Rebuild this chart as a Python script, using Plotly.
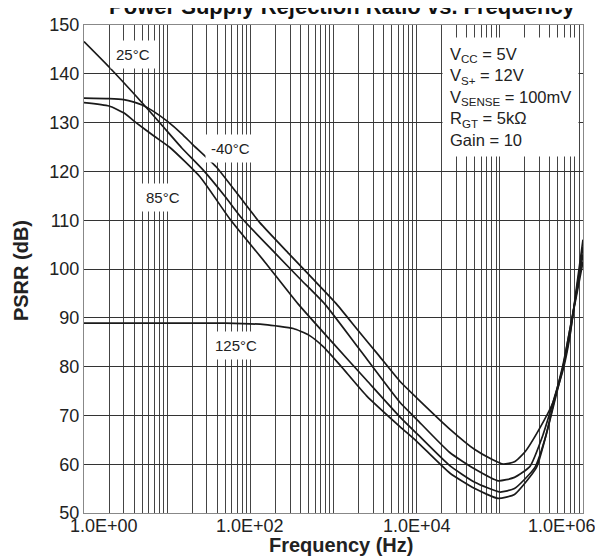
import math
import plotly.graph_objects as go

# ---------------- data ----------------
freq_m40 = [1, 2, 3, 4, 5, 7, 10, 15, 20, 39, 70, 130, 300, 600, 1090, 2000, 3500,
            6280, 10000, 25000, 50000, 80000, 110000, 150000, 200000, 300000,
            437000, 577000, 694000, 834000, 1000000]
psrr_m40 = [135.0, 134.9, 134.7, 134.2, 133.6, 132.2, 130.3, 127.7, 125.6, 120.9,
            115.4, 109.5, 102.9, 97.5, 92.8, 87.3, 82.3, 77.0, 73.6, 67.2, 63.0,
            61.0, 60.0, 60.5, 62.5, 67.3, 72.7, 79.4, 86.1, 96.1, 106.0]

freq_25 = [1, 2, 4.3, 8.5, 15, 27, 50, 79, 200, 400, 788, 2000, 6280, 10000, 25000,
           50000, 95000, 150000, 229000, 330000, 450000, 577000, 694000, 834000,
           1000000]
psrr_25 = [146.6, 141.4, 135.3, 129.6, 124.8, 120.3, 114.8, 110.4, 103.2, 97.9,
           92.8, 83.8, 72.7, 69.2, 62.4, 59.0, 56.6, 57.3, 59.5, 66.0, 73.5, 80.0,
           86.5, 95.5, 104.5]

freq_85 = [1, 2, 3, 4.3, 7, 10.8, 24.8, 57, 150, 377, 1000, 2500, 6280, 10000, 25000,
           50000, 100000, 150000, 263000, 360000, 450000, 577000, 694000, 834000,
           1000000]
psrr_85 = [134.1, 133.4, 132.0, 129.9, 127.2, 124.9, 118.9, 110.2, 101.4, 92.8,
           84.7, 77.2, 69.7, 66.3, 59.7, 56.3, 54.3, 55.0, 59.3, 66.0, 73.0, 80.5,
           87.5, 95.0, 103.0]

freq_125 = [1, 10, 50, 150, 328, 500, 752, 1200, 2500, 6280, 10000, 25000, 50000,
            95000, 150000, 275000, 360000, 450000, 577000, 694000, 834000, 1000000]
psrr_125 = [88.9, 88.9, 88.9, 88.6, 87.8, 86.5, 84.1, 80.3, 74.0, 67.7, 64.7, 58.2,
            55.0, 53.0, 53.8, 59.3, 66.0, 72.5, 80.0, 87.5, 94.5, 101.5]

curve_labels = ["25°C", "-40°C", "85°C", "125°C"]

x_tick_vals = [1, 100, 10000, 1000000]
x_tick_text = ["1.0E+00", "1.0E+02", "1.0E+04", "1.0E+06"]
y_tick_vals = [50, 60, 70, 80, 90, 100, 110, 120, 130, 140, 150]

grid_vals = [m * 10 ** d for d in range(6) for m in range(1, 10)] + [1000000]

conditions = ("V<sub>CC</sub> = 5V<br>V<sub>S+</sub> = 12V<br>"
              "V<sub>SENSE</sub> = 100mV<br>R<sub>GT</sub> = 5kΩ<br>Gain = 10")

# ---------------- figure ----------------
FONT = "Liberation Sans, Arial, sans-serif"
LINE = dict(color="#1a1a1a", width=1.7)

fig = go.Figure()
for fx, fy, name in [(freq_25, psrr_25, curve_labels[0]),
                     (freq_m40, psrr_m40, curve_labels[1]),
                     (freq_85, psrr_85, curve_labels[2]),
                     (freq_125, psrr_125, curve_labels[3])]:
    fig.add_trace(go.Scatter(x=fx, y=fy, mode="lines",
                             line=dict(LINE, shape="spline", smoothing=0.5),
                             name=name, showlegend=False))

fig.update_layout(
    width=603, height=559,
    margin=dict(l=76, r=28, t=7, b=54),
    paper_bgcolor="white", plot_bgcolor="white",
    font=dict(family=FONT, color="#222", size=18),
    title=dict(text="<b>Power Supply Rejection Ratio vs. Frequency</b>",
               font=dict(family=FONT, size=22, color="#111"),
               x=0.517, xref="paper", xanchor="center",
               y=1 - 6 / 559, yref="container", yanchor="bottom"),
)
fig.update_xaxes(type="log", range=[0, 6], tickvals=grid_vals, showticklabels=False,
                 ticks="", showgrid=True, gridcolor="#444", gridwidth=1,
                 showline=True, linecolor="#888", linewidth=1, mirror=True,
                 zeroline=False)
fig.update_yaxes(range=[50, 150], tickvals=y_tick_vals, ticks="",
                 tickfont=dict(size=18, color="#222"), ticklabeloverflow="allow",
                 showgrid=True, gridcolor="#333", gridwidth=1,
                 showline=True, linecolor="#888", linewidth=1, mirror=True,
                 zeroline=False)

# x tick labels (first/last pulled inside as in the reference)
shifts = [20, 0, 0, -21]
for v, t, s in zip(x_tick_vals, x_tick_text, shifts):
    fig.add_annotation(x=math.log10(v), xref="x", y=0, yref="paper", text=t,
                       showarrow=False, xanchor="center", yanchor="top",
                       xshift=s, yshift=-1, font=dict(size=18, color="#222"))

# axis titles
fig.add_annotation(x=0.515, xref="paper", y=-0.066, yref="paper",
                   text="<b>Frequency (Hz)</b>", showarrow=False,
                   xanchor="center", yanchor="middle",
                   font=dict(size=20, color="#222"))
fig.add_annotation(x=-0.126, xref="paper", y=0.496, yref="paper",
                   text="<b>PSRR (dB)</b>", showarrow=False, textangle=-90,
                   xanchor="center", yanchor="middle",
                   font=dict(size=20, color="#222"))

# curve labels
label_pos = [(3.88, 144.0), (58.5, 124.7), (8.9, 114.7), (67, 84.3)]
for (lx, ly), t in zip(label_pos, curve_labels):
    fig.add_annotation(x=math.log10(lx), y=ly, text=t, showarrow=False,
                       bgcolor="white", borderpad=5,
                       font=dict(size=15, color="#222"))

# conditions box
fig.add_annotation(x=0.717, xref="paper", y=0.975, yref="paper", text=conditions,
                   showarrow=False, align="left", xanchor="left", yanchor="top",
                   bgcolor="white", borderpad=7,
                   font=dict(size=16.5, color="#222"))

fig.write_html("out.html")
